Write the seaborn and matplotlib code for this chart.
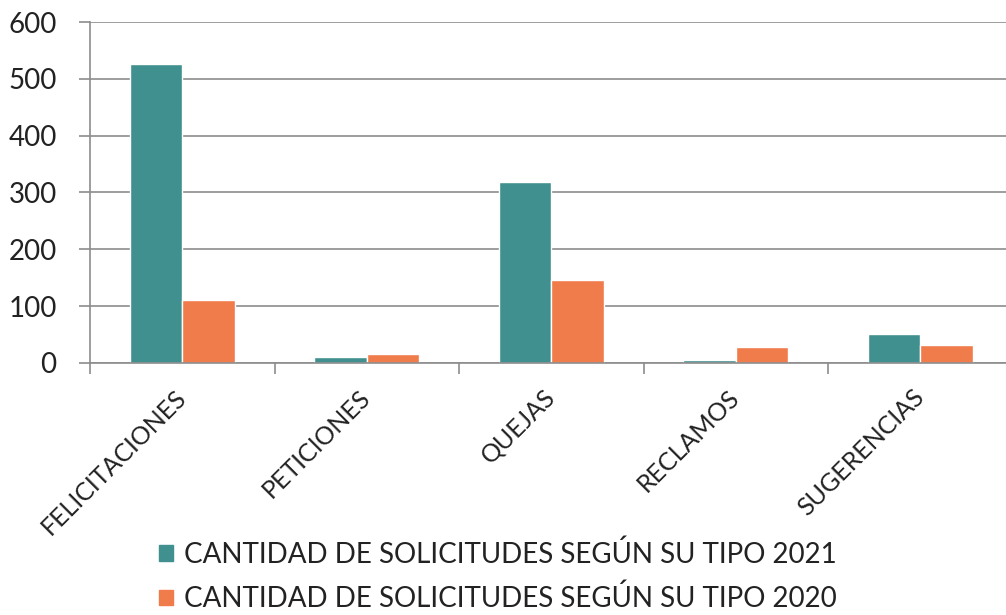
import numpy as np
import pandas as pd
import matplotlib
matplotlib.use("Agg")
import matplotlib.pyplot as plt
from matplotlib.ticker import FixedLocator
import seaborn as sns

categorias = ["FELICITACIONES", "PETICIONES", "QUEJAS", "RECLAMOS", "SUGERENCIAS"]
serie_2021 = [527, 11, 318, 5, 50]
serie_2020 = [111, 15, 146, 28, 32]
nombre_2021 = "CANTIDAD DE SOLICITUDES SEGÚN SU TIPO 2021"
nombre_2020 = "CANTIDAD DE SOLICITUDES SEGÚN SU TIPO 2020"

df = pd.DataFrame({
    "tipo": categorias * 2,
    "valor": serie_2021 + serie_2020,
    "serie": [nombre_2021] * len(categorias) + [nombre_2020] * len(categorias),
})

sns.set_style("white")
plt.rcParams["font.family"] = ["Lato", "DejaVu Sans"]

fig = plt.figure(figsize=(10.06, 6.15), dpi=100)
ax = fig.add_axes([0.0895, 0.410, 0.917, 0.554])

colores = {nombre_2021: "#40908f", nombre_2020: "#f07b4b"}
sns.barplot(data=df, x="tipo", y="valor", hue="serie", palette=colores,
            width=0.57, gap=0, ax=ax, legend=False, saturation=1)

ax.set_xlim(-0.5, 4.5)
ax.set_ylim(0, 600)
ax.set_yticks(np.arange(0, 601, 100))
ax.yaxis.grid(True, color="#8c8c8c", linewidth=1.2)
ax.set_axisbelow(True)
ax.set_xlabel("")
ax.set_ylabel("")

for s in ["top", "right"]:
    ax.spines[s].set_visible(False)
ax.spines["left"].set_color("#8c8c8c")
ax.spines["bottom"].set_color("#8c8c8c")
ax.spines["left"].set_linewidth(1.2)
ax.spines["bottom"].set_linewidth(1.2)

ax.tick_params(axis="y", length=8, width=1.2, color="#8c8c8c",
               labelsize=20, labelcolor="#222222", pad=16, left=True)
ax.tick_params(axis="x", which="major", length=0, labelsize=18,
               labelcolor="#222222", pad=22)
ax.xaxis.set_minor_locator(FixedLocator(np.arange(-0.5, 4.6, 1)))
ax.tick_params(axis="x", which="minor", length=8, width=1.2,
               color="#8c8c8c", bottom=True)
plt.setp(ax.get_xticklabels(), rotation=45, ha="right",
         rotation_mode="anchor", va="center")

handles = [plt.Rectangle((0, 0), 1, 1, color=colores[nombre_2021]),
           plt.Rectangle((0, 0), 1, 1, color=colores[nombre_2020])]
fig.legend(handles, [nombre_2021, nombre_2020], loc="center",
           bbox_to_anchor=(0.495, 0.063), frameon=False, fontsize=20,
           handlelength=0.5, handleheight=0.5, handletextpad=0.4,
           labelspacing=0.62, labelcolor="#222222", borderpad=0)

fig.savefig("out.png", dpi=100)
